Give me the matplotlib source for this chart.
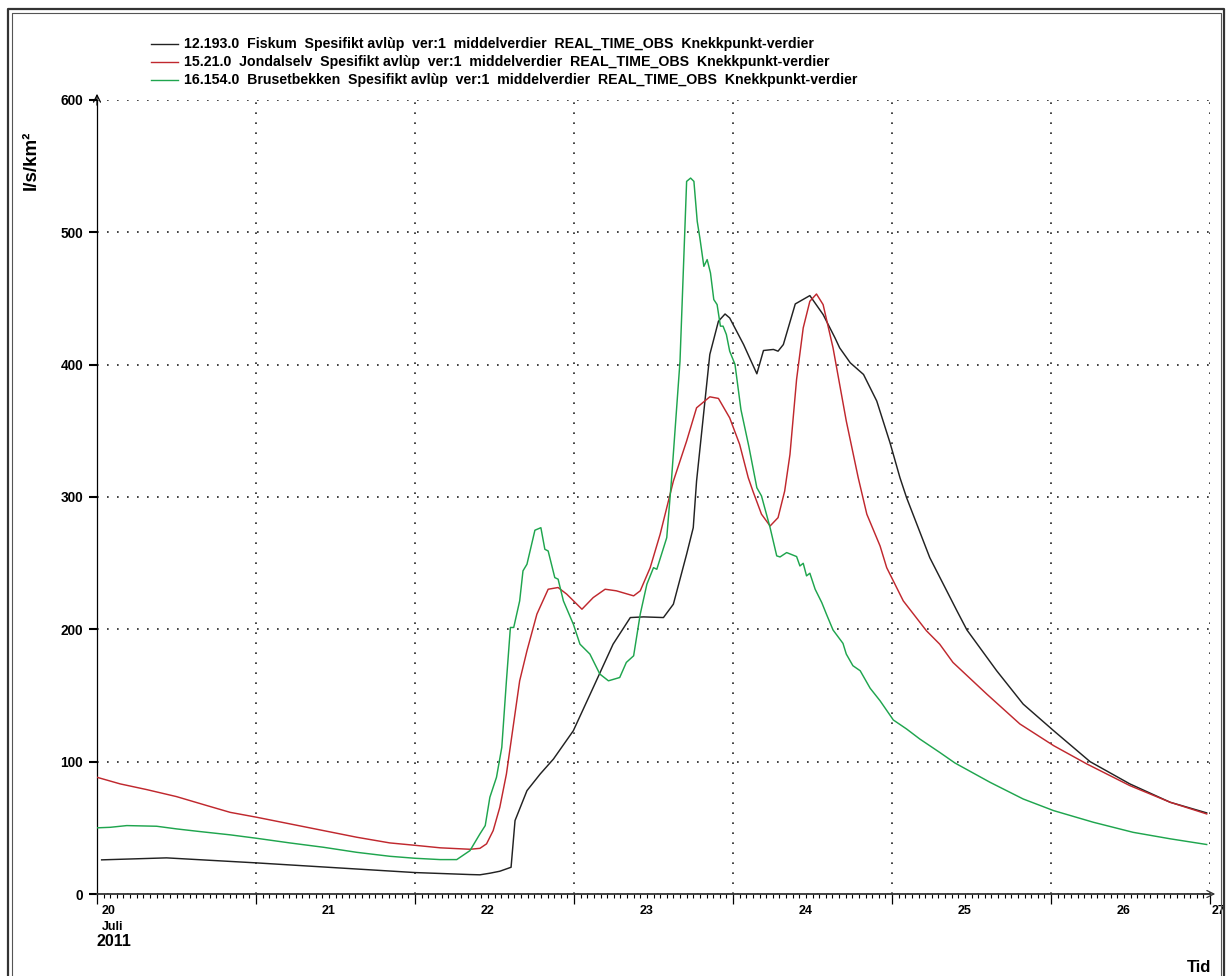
import matplotlib
matplotlib.use('Agg')
import matplotlib.pyplot as plt
from matplotlib.lines import Line2D
from matplotlib.ticker import MultipleLocator

plt.rcParams['font.family'] = ['Liberation Sans', 'DejaVu Sans']

# ---------------- data (hours since 20 Jul 2011 00:00, l/s/km2) ----------------
series_names = [
    "12.193.0  Fiskum  Spesifikt avlùp  ver:1  middelverdier  REAL_TIME_OBS  Knekkpunkt-verdier",
    "15.21.0  Jondalselv  Spesifikt avlùp  ver:1  middelverdier  REAL_TIME_OBS  Knekkpunkt-verdier",
    "16.154.0  Brusetbekken  Spesifikt avlùp  ver:1  middelverdier  REAL_TIME_OBS  Knekkpunkt-verdier",
]
series_colors = ['#222222', '#c0282e', '#1fa54e']

fiskum_h = [0.7, 10.5, 24.1, 36.2, 48, 56.3, 57.8, 59.3, 60.8, 62.5, 63.1, 64.9, 66.9, 68.9,
            71.9, 74.9, 77.9, 80.5, 82.5, 85.5, 87, 89, 90, 90.5, 92.5, 93.8, 94.8, 95.5,
            97.6, 99.6, 100.6, 102.1, 102.8, 103.6, 105.4, 107.6, 109.6, 111.4, 112.1,
            113.7, 115.7, 117.7, 119.7, 121.2, 122.2, 125.7, 129.8, 131.3, 135.8, 139.8,
            144.4, 149.9, 155.9, 162, 167.5]
fiskum_v = [25.8, 27.3, 23.5, 19.8, 16.2, 14.7, 14.5, 15.7, 17.2, 20.2, 55.5, 78.1, 90.7, 102,
            123.4, 156, 188.8, 208.9, 209.4, 208.9, 219, 256.8, 276.8, 312, 407.7, 432.8, 438.3, 435.3,
            415.2, 393.1, 410.7, 411.5, 410.2, 415.2, 445.9, 452.2, 437.9, 420.2, 412.7,
            401.4, 392.6, 372.5, 341, 314.6, 299.5, 254.2, 214, 199.6, 168.7, 143.5,
            123.4, 100, 83.2, 69.3, 61.3]

jondal_h = [0, 3.5, 7.5, 12, 16.6, 20.1, 24.1, 29.1, 34.2, 39.2, 44.2, 48, 51.8, 56.3, 57.8,
            58.8, 59.8, 60.8, 61.8, 62.8, 63.8, 64.9, 66.4, 68.1, 69.6, 70.9, 73.2, 74.9, 76.7,
            78.4, 81, 82, 83.5, 85, 87, 89, 90.5, 92.5, 93.8, 95.5, 97, 98.3, 99, 100.3, 101.6,
            102.8, 103.8, 104.6, 105.6, 106.6, 107.6, 108.6, 109.6, 111.1, 113.1, 114.9, 116.2,
            118.2, 119.2, 121.7, 125.2, 127.2, 129.2, 134.3, 139.3, 144.4, 149.4, 155.9, 162, 167.5]
jondal_v = [88.2, 83.2, 78.9, 73.6, 66.8, 61.7, 58, 53, 47.9, 42.9, 38.6, 36.8, 34.9, 33.8, 34.5,
            37.9, 47.9, 65.5, 90.7, 125.9, 161.1, 183.8, 211.5, 230.3, 231.6, 226.6, 215.2, 224, 230.3,
            229.1, 225.3, 229.1, 246.6, 271.8, 312, 342.3, 367.4, 375.7, 374.5, 359.8, 339.8, 314.6, 304.5, 287, 278.1,
            284.4, 304.5, 332.2, 389, 427.8, 447.9, 453.4, 445.4, 412.7, 357.4, 314.6, 287,
            263, 246.6, 221.5, 198.9, 188.8, 175, 151.1, 128.5, 112.1, 98.3, 81.9, 69.3, 60.5]

bruset_h = [0, 2, 4.5, 9, 12, 15.5, 20.1, 24.1, 29.1, 34.2, 39.2, 44.2, 48, 51.8, 54.3, 56.3,
            57.8, 58.6, 59.3, 60.3, 61.1, 61.8, 62.4, 62.9, 63.8, 64.3, 64.9, 66.1, 67, 67.6, 68.1,
            69.1, 69.6, 70.4, 71.9, 72.9, 74.4, 75.9, 77.2, 78.9, 79.9, 81, 82, 83, 84, 84.5, 86,
            86.7, 88, 89, 89.6, 90.1, 90.6, 91, 91.6, 92.1, 92.6, 93.1, 93.6, 94.1, 94.5, 95, 95.5,
            96.3, 97.2, 98.4, 99.6, 100.3, 101.6, 102.6, 103.1, 104.1, 105.6, 106.1, 106.6, 107.1,
            107.6, 108.4, 109.4, 110.1, 111.1, 112.6, 113.1, 114.1, 115.2, 116.7, 118.2, 120.2,
            122.2, 124.2, 127.2, 129.5, 134.8, 139.8, 144.4, 150.4, 156.4, 162, 167.5]
bruset_v = [50, 50.4, 51.7, 51.2, 49.2, 47.2, 44.7, 42.1, 38.6, 35.3, 31.5, 28.5, 27, 26, 26, 32.8,
            45.4, 51.7, 73.1, 88.2, 110.8, 161.1, 201.4, 201.4, 221.5, 244.2, 249.2, 274.9, 276.8, 260.5, 259.2,
            239.1, 237.9, 221.5, 203.9, 188.8, 181.3, 166.2, 161.1, 163.6, 175, 180, 211.5, 234.1, 246.6, 245.4, 269.3,
            312, 402.6, 538.5, 541, 538.5, 508.3, 495.7, 474.3, 479.4, 469.3, 449.2, 445.4, 429.1, 429.1, 422.8, 410.2,
            400.2, 366, 338, 307, 300.8, 276.8, 255.5, 254.7, 258, 255, 247.9, 249.9, 240.4,
            242.4, 230.3, 220.2, 211.5, 199.5, 189.4, 181.3, 172.5, 168.7, 155.5, 146, 131.5,
            124.7, 117.1, 107, 99, 84.4, 71.8, 63, 54.2, 46.6, 41.7, 37.4]

y_ticks = [0, 100, 200, 300, 400, 500, 600]
day_labels = ['20', '21', '22', '23', '24', '25', '26', '27']
month_label = 'Juli'
year_label = '2011'
y_title = 'l/s/km²'
x_title = 'Tid'

# ---------------- figure ----------------
W, H = 1228, 976
fig = plt.figure(figsize=(W / 100, H / 100), dpi=100)


def fx(px):
    return px / W


def fy(py):
    return 1 - py / H


ax = fig.add_axes([fx(97), fy(894), fx(1210) - fx(97), fy(100) - fy(894)])
ax.set_xlim(0, 168)
ax.set_ylim(0, 600)

for hs, vs, c in zip([fiskum_h, jondal_h, bruset_h], [fiskum_v, jondal_v, bruset_v], series_colors):
    ax.plot(hs, vs, color=c, lw=1.05, solid_joinstyle='round', zorder=3)

# grid
ax.set_yticks(y_ticks)
ax.set_xticks([24 * i for i in range(8)])
ax.xaxis.set_minor_locator(MultipleLocator(1))
ax.grid(True, which='major', linestyle=(0, (1, 5)), color='#222222', lw=1.2)

for s in ['top', 'right']:
    ax.spines[s].set_visible(False)
ax.spines['left'].set_linewidth(0.9)
ax.spines['bottom'].set_linewidth(1.3)
ax.spines['bottom'].set_color('#333333')

ax.tick_params(axis='y', direction='out', length=6, width=1.5, pad=4,
               labelsize=9.8)
for t in ax.get_yticklabels():
    t.set_fontweight('bold')
ax.tick_params(axis='x', which='major', direction='out', length=7, width=0.9, labelbottom=False)
ax.tick_params(axis='x', which='minor', direction='out', length=3, width=0.8)

# day labels
xt = ax.get_xaxis_transform()
label_pos = [1.8] + [24 * i + 11 for i in range(1, 7)] + [169.3]
for pos, lab in zip(label_pos, day_labels):
    ax.text(pos, -17 / 794, lab, transform=xt, ha='center', va='center',
            fontsize=9, fontweight='bold', clip_on=False)
ax.text(2.4, -32.5 / 794, month_label, transform=xt, ha='center', va='center',
        fontsize=9, fontweight='bold', clip_on=False)
ax.text(2.5, -48 / 794, year_label, transform=xt, ha='center', va='center',
        fontsize=11.5, fontweight='bold', clip_on=False)

# axis arrows
ax.annotate('', xy=(0, 1 + 9 / 794), xytext=(0, 0.99), xycoords='axes fraction',
            arrowprops=dict(arrowstyle='->,head_length=0.5,head_width=0.25', lw=0.9, color='black'),
            annotation_clip=False)
ax.annotate('', xy=(1 + 8 / 1113, 0), xytext=(0.99, 0), xycoords='axes fraction',
            arrowprops=dict(arrowstyle='->,head_length=0.5,head_width=0.25', lw=0.9, color='#333333'),
            annotation_clip=False)

# titles
fig.text(fx(31), fy(160), y_title, rotation=90, ha='center', va='center',
         fontsize=13.5, fontweight='bold')
fig.text(fx(1199), fy(968), x_title, ha='center', va='center', fontsize=12, fontweight='bold')

# legend
leg_y = [44, 62, 80]
for name, c, yy in zip(series_names, series_colors, leg_y):
    fig.add_artist(Line2D([fx(151), fx(178)], [fy(yy), fy(yy)], color=c, lw=1.0))
    fig.text(fx(184), fy(yy), name, ha='left', va='center', fontsize=10.2, fontweight='bold')

# frame (double border)
fig.add_artist(Line2D([fx(8), fx(8), fx(1224), fx(1224)], [fy(990), fy(9), fy(9), fy(990)],
                      color='#333333', lw=1.6))
fig.add_artist(Line2D([fx(11.5), fx(11.5), fx(1220.5), fx(1220.5)], [fy(990), fy(13), fy(13), fy(990)],
                      color='#555555', lw=0.8))

fig.savefig('out.png', dpi=100)
